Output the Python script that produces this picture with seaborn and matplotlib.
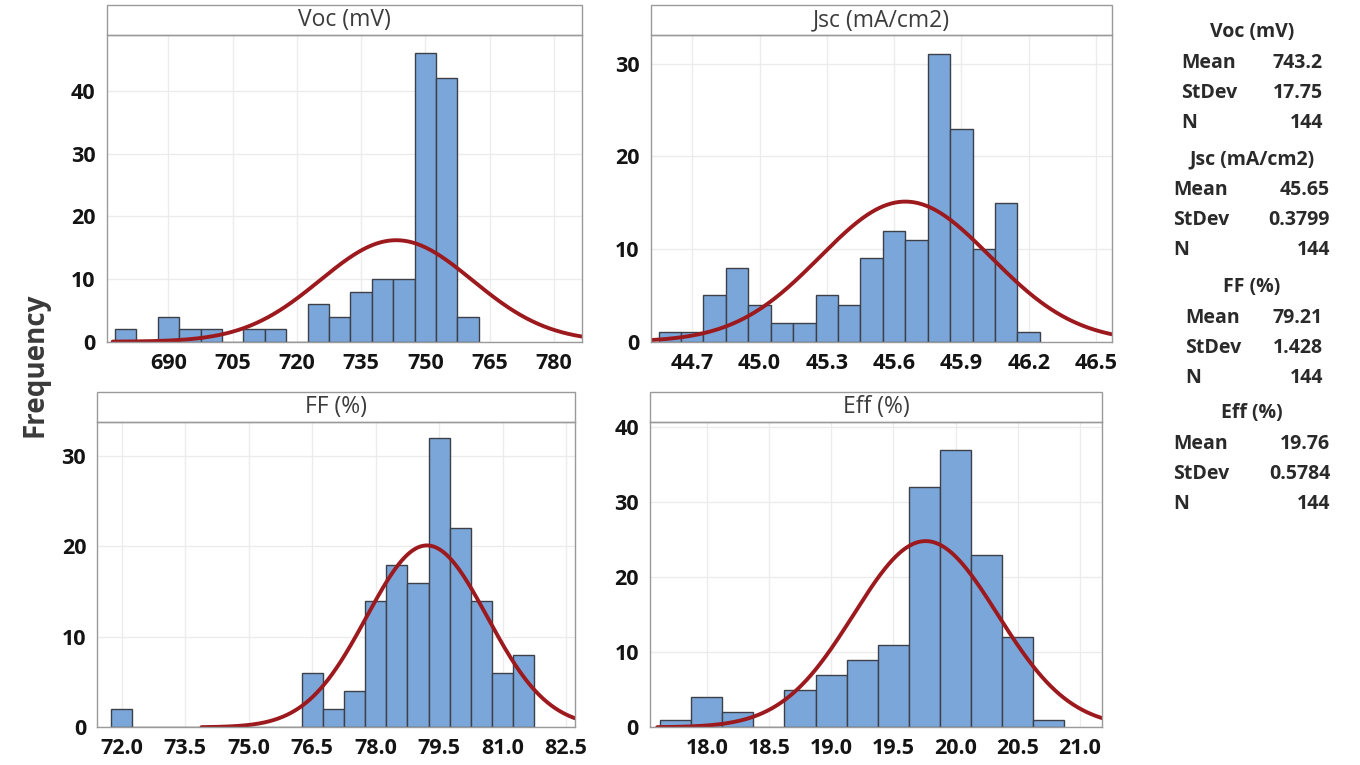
import matplotlib
matplotlib.use("Agg")
import matplotlib.pyplot as plt
from matplotlib.patches import Rectangle
import numpy as np
import pandas as pd
import seaborn as sns

# ── values ───────────────────────────────────────────────────────────
titles = ["Voc (mV)", "Jsc (mA/cm2)", "FF (%)", "Eff (%)"]

voc_centers = [680, 685, 690, 695, 700, 705, 710, 715, 720, 725, 730, 735, 740, 745, 750, 755, 760]
voc_counts = [2, 0, 4, 2, 2, 0, 2, 2, 0, 6, 4, 8, 10, 10, 46, 42, 4]

jsc_centers = [44.6, 44.7, 44.8, 44.9, 45.0, 45.1, 45.2, 45.3, 45.4, 45.5, 45.6, 45.7,
               45.8, 45.9, 46.0, 46.1, 46.2]
jsc_counts = [1, 1, 5, 8, 4, 2, 2, 5, 4, 9, 12, 11, 31, 23, 10, 15, 1]

ff_centers = [72.0, 72.5, 73.0, 73.5, 74.0, 74.5, 75.0, 75.5, 76.0, 76.5, 77.0, 77.5,
              78.0, 78.5, 79.0, 79.5, 80.0, 80.5, 81.0, 81.5]
ff_counts = [2, 0, 0, 0, 0, 0, 0, 0, 0, 6, 2, 4, 14, 18, 16, 32, 22, 14, 6, 8]

eff_centers = [17.75, 18.0, 18.25, 18.5, 18.75, 19.0, 19.25, 19.5, 19.75, 20.0, 20.25, 20.5, 20.75]
eff_counts = [1, 4, 2, 0, 5, 7, 9, 11, 32, 37, 23, 12, 1]

bin_widths = [5, 0.1, 0.5, 0.25]
means = [743.2, 45.65, 79.21, 19.76]
stdevs = [17.75, 0.3799, 1.428, 0.5784]
n_obs = [144, 144, 144, 144]
mean_txt = ["743.2", "45.65", "79.21", "19.76"]
stdev_txt = ["17.75", "0.3799", "1.428", "0.5784"]

voc_ticks = [690, 705, 720, 735, 750, 765, 780]
jsc_ticks = [44.7, 45.0, 45.3, 45.6, 45.9, 46.2, 46.5]
ff_ticks = [72.0, 73.5, 75.0, 76.5, 78.0, 79.5, 81.0, 82.5]
eff_ticks = [18.0, 18.5, 19.0, 19.5, 20.0, 20.5, 21.0]

# ── style ────────────────────────────────────────────────────────────
sns.set_theme(style="white")
plt.rcParams["font.family"] = ["Open Sans", "DejaVu Sans"]

BAR = "#7ba6d9"
EDGE = "#3d4048"
CURVE = "#9c1a1e"
FRAME = "#9a9a9a"
GRID = "#ececec"
W, H = 1360, 765

fig = plt.figure(figsize=(13.6, 7.65), dpi=100)


def px_rect(left, top, right, bottom):
    return [left / W, 1 - bottom / H, (right - left) / W, (bottom - top) / H]


panels = [
    (voc_centers, voc_counts, voc_ticks, "{:.0f}", (675.6, 786.5), 48.9, [0, 10, 20, 30, 40],
     px_rect(106.7, 35, 581.7, 341.7)),
    (jsc_centers, jsc_counts, jsc_ticks, "{:.1f}", (44.515, 46.57), 33.1, [0, 10, 20, 30],
     px_rect(650.7, 35, 1111.7, 341.7)),
    (ff_centers, ff_counts, ff_ticks, "{:.1f}", (71.42, 82.71), 33.8, [0, 10, 20, 30],
     px_rect(97.3, 421.7, 575, 727.3)),
    (eff_centers, eff_counts, eff_ticks, "{:.1f}", (17.544, 21.18), 40.75, [0, 10, 20, 30, 40],
     px_rect(650, 421.7, 1102.3, 727.3)),
]

for i, (centers, counts, ticks, fmt, xlim, ytop, yticks, rect) in enumerate(panels):
    ax = fig.add_axes(rect)
    w = bin_widths[i]
    df = pd.DataFrame({"value": centers, "count": counts})
    c = df["value"].to_numpy(dtype=float)
    edges = [float(e) for e in np.append(c - w / 2, c[-1] + w / 2)]
    sns.histplot(data=df, x="value", weights="count", bins=edges, ax=ax, color=BAR,
                 edgecolor=EDGE, linewidth=1, alpha=1)

    # fitted normal curve scaled to counts
    mu, sd = means[i], stdevs[i]
    xs = np.linspace(mu - 3.73 * sd, xlim[1], 400)
    ys = n_obs[i] * w * np.exp(-0.5 * ((xs - mu) / sd) ** 2) / (sd * np.sqrt(2 * np.pi))
    sns.lineplot(x=xs, y=ys, ax=ax, color=CURVE, lw=2.8)

    ax.set_xlim(*xlim)
    ax.set_ylim(0, ytop)
    ax.set_xticks(ticks)
    ax.set_xticklabels([fmt.format(t) for t in ticks])
    ax.set_yticks(yticks)
    ax.set_xlabel("")
    ax.set_ylabel("")
    ax.grid(True, color=GRID, lw=1)
    ax.set_axisbelow(True)
    for s in ax.spines.values():
        s.set_color(FRAME)
        s.set_linewidth(1)
    ax.tick_params(axis="both", length=5, width=1, color=FRAME, labelsize=15.5,
                   labelcolor="#141414", pad=3)
    for lab in ax.get_xticklabels() + ax.get_yticklabels():
        lab.set_fontweight("bold")

    # strip title above each panel
    bbox = ax.get_position()
    h = (30 / H) / bbox.height
    ax.add_patch(Rectangle((0, 1), 1, h, transform=ax.transAxes, clip_on=False,
                           facecolor="white", edgecolor=FRAME, lw=1))
    ax.text(0.5, 1 + h / 2, titles[i], transform=ax.transAxes, ha="center",
            va="center", fontsize=16.5, color="#3c3c3c")

fig.text(35 / W, 1 - 365 / H, "Frequency", rotation=90, ha="center", va="center",
         fontsize=20, fontweight="bold", color="#3a3a3a")

# ── summary table on the right ───────────────────────────────────────
head_y = [32, 159, 287, 413]
row_left = [1181, 1173, 1185, 1173]
row_right = [1323, 1330, 1323, 1330]
txt_kw = dict(fontsize=14, fontweight="bold", color="#2a2a2a", va="center")
for i in range(4):
    y0 = head_y[i]
    fig.text(1252 / W, 1 - y0 / H, titles[i], ha="center", **txt_kw)
    rows = [("Mean", mean_txt[i]), ("StDev", stdev_txt[i]), ("N", str(n_obs[i]))]
    for j, (lab, val) in enumerate(rows):
        y = y0 + 31 + j * 30
        fig.text(row_left[i] / W, 1 - y / H, lab, ha="left", **txt_kw)
        fig.text(row_right[i] / W, 1 - y / H, val, ha="right", **txt_kw)

fig.savefig("out.png", dpi=100, facecolor="white")
